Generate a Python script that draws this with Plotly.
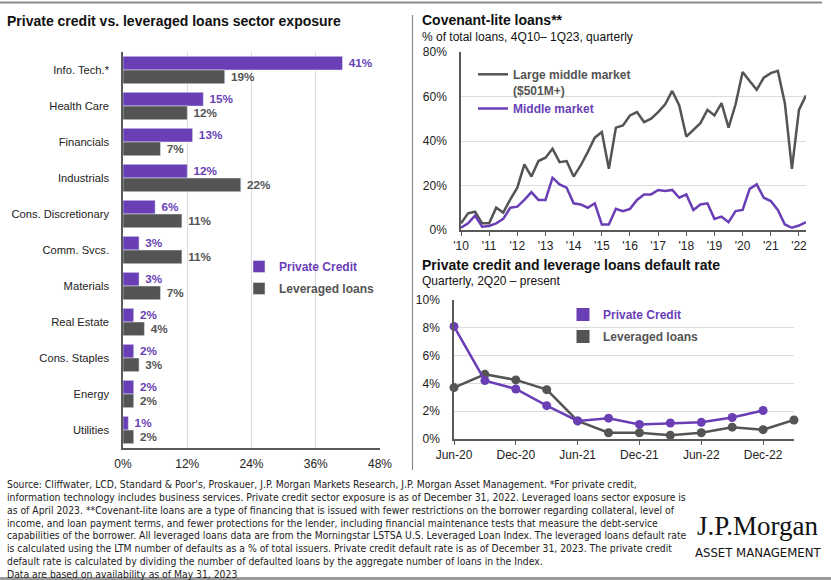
"""
Private credit vs. leveraged loans: sector exposure, cov-lite share, default rates
"""
import plotly.graph_objects as go

# ---- data -------------------------------------------------------------
sectors = ['Info. Tech.*', 'Health Care', 'Financials', 'Industrials',
           'Cons. Discretionary', 'Comm. Svcs.', 'Materials', 'Real Estate',
           'Cons. Staples', 'Energy', 'Utilities']
private_credit_exposure = [41, 15, 13, 12, 6, 3, 3, 2, 2, 2, 1]
leveraged_loans_exposure = [19, 12, 7, 22, 11, 11, 7, 4, 3, 2, 2]

# covenant-lite, quarterly 4Q10 - 1Q23 (% of total loans)
covlite_quarter = list(range(50))
covlite_large_mm = [3, 7.5, 8.2, 3, 3, 10, 7.8, 13.8, 19, 29.5,
                    24, 31, 32.5, 36.5, 30.5, 31, 24, 29, 35, 41.5,
                    44, 27.5, 46, 47, 51.5, 53, 48.5, 50, 53, 56.5,
                    62.5, 56, 42, 45, 48, 54, 51.5, 57, 46, 56.5,
                    71, 67, 63, 68.5, 70.5, 71.5, 57, 27.5, 54, 60.5]
covlite_mm = [1, 3, 6.5, 1.5, 1.8, 3, 5, 10, 10.5, 13.5,
              17, 13.5, 13.5, 23.5, 20.5, 19, 12, 11.5, 10, 12,
              2.5, 2.5, 9.5, 8.5, 9.5, 13.5, 16, 16, 18, 17.5,
              18, 14.5, 16, 9, 11.5, 12, 5, 6, 3.5, 8.5,
              9, 18.5, 20.5, 14.5, 13, 9, 2.5, 1, 2, 3.5]
covlite_tick_pos = [0, 4, 8, 12, 16, 20, 24, 28, 32, 36, 40, 44, 48]
covlite_tick_text = ["'10", "'11", "'12", "'13", "'14", "'15", "'16",
                     "'17", "'18", "'19", "'20", "'21", "'22"]

# default rates, quarterly from Jun-20
default_quarter_pc = list(range(11))
default_private_credit = [8.1, 4.2, 3.6, 2.4, 1.3, 1.5, 1.05, 1.15, 1.2, 1.55, 2.05]
default_quarter_ll = list(range(12))
default_leveraged = [3.7, 4.65, 4.25, 3.55, 1.3, 0.45, 0.45, 0.27, 0.45, 0.85, 0.67, 1.37]
default_tick_pos = [0, 2, 4, 6, 8, 10]
default_tick_text = ['Jun-20', 'Dec-20', 'Jun-21', 'Dec-21', 'Jun-22', 'Dec-22']

footer_lines = [
    "Source: Cliffwater, LCD, Standard & Poor's, Proskauer, J.P. Morgan Markets Research, J.P. Morgan Asset Management. *For private credit,",
    "information technology includes business services. Private credit sector exposure is as of December 31, 2022. Leveraged loans sector exposure is",
    "as of April 2023. **Covenant-lite loans are a type of financing that is issued with fewer restrictions on the borrower regarding collateral, level of",
    "income, and loan payment terms, and fewer protections for the lender, including financial maintenance tests that measure the debt-service",
    "capabilities of the borrower. All leveraged loans data are from the Morningstar LSTSA U.S. Leveraged Loan Index. The leveraged loans default rate",
    "is calculated using the LTM number of defaults as a % of total issuers. Private credit default rate is as of December 31, 2023. The private credit",
    "default rate is calculated by dividing the number of defaulted loans by the aggregate number of loans in the Index.",
    "Data are based on availability as of May 31, 2023",
]

# ---- styling ----------------------------------------------------------
W, H = 831, 580
PURPLE = '#6a3fb6'
GRAY = '#545454'
GRID = '#dcdcdc'
AXIS = '#595959'
FONT = 'Liberation Sans, Arial, sans-serif'
NARROW = 'Liberation Sans Narrow, Arial Narrow, DejaVu Sans Condensed, sans-serif'


def px_x(x):
    return x / W


def px_y(y):
    return 1 - y / H


def colored(text, color):
    return '<span style="color:%s"><b>%s</b></span>' % (color, text)


fig = go.Figure()

# sector exposure bars
fig.add_trace(go.Bar(y=sectors, x=private_credit_exposure, orientation='h',
                     name=colored('Private Credit', PURPLE), marker_color=PURPLE,
                     texttemplate='\u00a0%{x}', textposition='outside',
                     textfont=dict(color=PURPLE, size=12, family=FONT, weight='bold'),
                     cliponaxis=False, xaxis='x', yaxis='y',
                     legend='legend', legendgroup='pc'))
fig.add_trace(go.Bar(y=sectors, x=leveraged_loans_exposure, orientation='h',
                     name=colored('Leveraged loans', GRAY), marker_color=GRAY,
                     texttemplate='\u00a0%{x}', textposition='outside',
                     textfont=dict(color=GRAY, size=12, family=FONT, weight='bold'),
                     cliponaxis=False, xaxis='x', yaxis='y',
                     legend='legend', legendgroup='ll'))

# covenant-lite lines
fig.add_trace(go.Scatter(x=covlite_quarter, y=covlite_large_mm, mode='lines',
                         name=colored('Large middle market<br>($501M+)', GRAY),
                         line=dict(color=GRAY, width=2.5),
                         xaxis='x2', yaxis='y2', legend='legend2'))
fig.add_trace(go.Scatter(x=covlite_quarter, y=covlite_mm, mode='lines',
                         name=colored('Middle market', PURPLE),
                         line=dict(color=PURPLE, width=2.5),
                         xaxis='x2', yaxis='y2', legend='legend2'))

# default rates
fig.add_trace(go.Scatter(x=default_quarter_ll, y=default_leveraged, mode='lines+markers',
                         line=dict(color=GRAY, width=2.5), marker=dict(size=9, color=GRAY),
                         showlegend=False, xaxis='x3', yaxis='y3', cliponaxis=False))
fig.add_trace(go.Scatter(x=default_quarter_pc, y=default_private_credit, mode='lines+markers',
                         line=dict(color=PURPLE, width=2.5), marker=dict(size=9, color=PURPLE),
                         showlegend=False, xaxis='x3', yaxis='y3', cliponaxis=False))
# legend-only entries (square swatches)
fig.add_trace(go.Scatter(x=[None], y=[None], mode='markers', name=colored('Private Credit', PURPLE),
                         marker=dict(symbol='square', size=13, color=PURPLE),
                         xaxis='x3', yaxis='y3', legend='legend3', legendgroup='pc3'))
fig.add_trace(go.Scatter(x=[None], y=[None], mode='markers', name=colored('Leveraged loans', GRAY),
                         marker=dict(symbol='square', size=13, color=GRAY),
                         xaxis='x3', yaxis='y3', legend='legend3', legendgroup='ll3'))

tick_font = dict(size=12, color='#222', family=FONT)
cat_font = dict(size=11.2, color='#222', family=FONT)

fig.update_layout(
    width=W, height=H,
    margin=dict(l=0, r=0, t=0, b=0, autoexpand=False),
    paper_bgcolor='white', plot_bgcolor='white',
    font=dict(family=FONT, color='#222'),
    barmode='group', bargap=0.24, bargroupgap=0,
    showlegend=True,
    xaxis=dict(domain=[px_x(123), px_x(380)], range=[0, 48], dtick=12, ticksuffix='%',
               showgrid=True, gridcolor=GRID, gridwidth=1, zeroline=False,
               showline=True, linecolor=AXIS, linewidth=1.5, tickfont=tick_font,
               ticks='', ticklabelstandoff=4, anchor='y', automargin=False),
    yaxis=dict(domain=[px_y(448), px_y(52)], autorange='reversed',
               showline=True, linecolor=AXIS, linewidth=1.5, tickfont=cat_font,
               ticks='', ticklabelstandoff=10, anchor='x', automargin=False),
    xaxis2=dict(domain=[px_x(461), px_x(806)], range=[0, 49],
                tickvals=covlite_tick_pos, ticktext=covlite_tick_text,
                showgrid=False, zeroline=False, showline=True, linecolor=AXIS, linewidth=1.5,
                ticks='outside', ticklen=4, tickcolor=AXIS, tickfont=tick_font,
                anchor='y2', automargin=False),
    yaxis2=dict(domain=[px_y(230), px_y(52)], range=[0, 80], dtick=20, ticksuffix='%',
                showgrid=True, gridcolor=GRID, zeroline=False, showline=True,
                linecolor=AXIS, linewidth=1.5, tickfont=tick_font,
                ticks='', ticklabelstandoff=10, anchor='x2', automargin=False),
    xaxis3=dict(domain=[px_x(454), px_x(794)], range=[0, 11],
                tickvals=default_tick_pos, ticktext=default_tick_text,
                showgrid=False, zeroline=False, showline=True, linecolor=AXIS, linewidth=1.5,
                ticks='outside', ticklen=4, tickcolor=AXIS, tickfont=tick_font,
                anchor='y3', automargin=False),
    yaxis3=dict(domain=[px_y(439), px_y(300)], range=[0, 10], dtick=2, ticksuffix='%',
                showgrid=True, gridcolor=GRID, zeroline=False, showline=True,
                linecolor=AXIS, linewidth=1.5, tickfont=tick_font,
                ticks='', ticklabelstandoff=10, anchor='x3', automargin=False),
    legend=dict(x=px_x(239), y=px_y(252), xanchor='left', yanchor='top',
                bgcolor='rgba(0,0,0,0)', font=dict(size=12, family=FONT),
                itemwidth=30, traceorder='grouped', tracegroupgap=3),
    legend2=dict(x=px_x(473), y=px_y(60), xanchor='left', yanchor='top',
                 bgcolor='rgba(0,0,0,0)', font=dict(size=12, family=FONT),
                 valign='top', itemwidth=30),
    legend3=dict(x=px_x(563), y=px_y(300), xanchor='left', yanchor='top',
                 bgcolor='rgba(0,0,0,0)', font=dict(size=12, family=FONT),
                 itemwidth=30, traceorder='grouped', tracegroupgap=3),
)

title_font = dict(size=14, color='#111', family=FONT, weight='bold')
sub_font = dict(size=12, color='#111', family=FONT)
annotations = [
    dict(text='<b>Private credit vs. leveraged loans sector exposure</b>', x=px_x(5), y=px_y(21),
         font=title_font),
    dict(text='<b>Covenant-lite loans**</b>', x=px_x(420), y=px_y(20), font=title_font),
    dict(text='% of total loans, 4Q10– 1Q23, quarterly', x=px_x(420), y=px_y(37), font=sub_font),
    dict(text='<b>Private credit and leverage loans default rate</b>', x=px_x(420), y=px_y(265),
         font=title_font),
    dict(text='Quarterly, 2Q20 – present', x=px_x(420), y=px_y(281), font=sub_font),
    dict(text='J.P.Morgan', x=px_x(758), y=px_y(526), xanchor='center',
         font=dict(size=27, color='#111', family='Liberation Serif, Times New Roman, serif')),
    dict(text='ASSET MANAGEMENT', x=px_x(758), y=px_y(552), xanchor='center',
         font=dict(size=13, color='#111', family=NARROW)),
]
# footer, one annotation per line to keep the tight line spacing
for i, line in enumerate(footer_lines):
    annotations.append(dict(text=line, x=px_x(5), y=px_y(484 + 12.85 * i),
                            font=dict(size=10.3, color='#222', family=NARROW)))
for a in annotations:
    a.setdefault('xanchor', 'left')
    a.update(xref='paper', yref='paper', showarrow=False, yanchor='middle')
fig.update_layout(annotations=annotations)

# panel separators
fig.add_shape(type='line', xref='paper', yref='paper', x0=0, x1=px_x(822), y0=px_y(2.5), y1=px_y(2.5),
              line=dict(color='#8c8c8c', width=2))
fig.add_shape(type='line', xref='paper', yref='paper', x0=px_x(412.5), x1=px_x(412.5),
              y0=px_y(15), y1=px_y(470), line=dict(color='#8a8a8a', width=1.2))
fig.add_shape(type='line', xref='paper', yref='paper', x0=0, x1=1, y0=px_y(578.5), y1=px_y(578.5),
              line=dict(color='#9a9a9a', width=3))

# page body has a default 8px margin; drop it so the figure sits at the window origin
fig.write_html("out.html", config={'displayModeBar': False},
               post_script="document.body.style.margin='0';")
